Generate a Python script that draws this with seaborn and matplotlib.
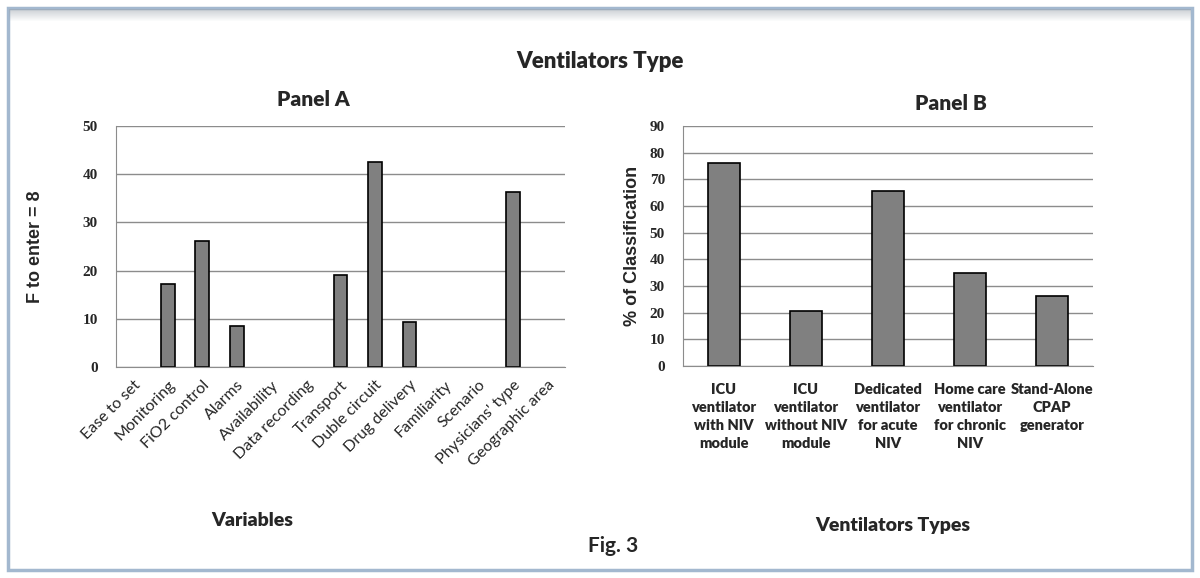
import numpy as np
import pandas as pd
import matplotlib
matplotlib.use("Agg")
import matplotlib.pyplot as plt
import seaborn as sns
from matplotlib.patches import Rectangle

# Panel A data
variables = ["Ease to set", "Monitoring", "FiO2 control", "Alarms", "Availability",
             "Data recording", "Transport", "Duble circuit", "Drug delivery",
             "Familiarity", "Scenario", "Physicians' type", "Geographic area"]
f_to_enter = [0, 17.2, 26.2, 8.6, 0, 0, 19.1, 42.6, 9.35, 0, 0, 36.4, 0]

# Panel B data
vent_types = ["ICU\nventilator\nwith NIV\nmodule", "ICU\nventilator\nwithout NIV\nmodule",
              "Dedicated\nventilator\nfor acute\nNIV", "Home care\nventilator\nfor chronic\nNIV",
              "Stand-Alone\nCPAP\ngenerator"]
pct_class = [76.2, 20.8, 65.8, 34.9, 26.4]

df_a = pd.DataFrame({"variable": variables, "F": f_to_enter})
df_b = pd.DataFrame({"type": vent_types, "pct": pct_class})

sns.set_style("white")
plt.rcParams["font.family"] = ["Lato", "DejaVu Sans"]

W, H = 1200, 578
fig = plt.figure(figsize=(12, 5.78), dpi=100)

def fx(px):
    return px / W

def fy(py):
    return 1 - py / H

# frame around the figure
fig.patches.append(Rectangle((fx(8), fy(570)), fx(1184), 562 / H, transform=fig.transFigure,
                             fill=False, edgecolor="#a3b8cf", linewidth=2.5))
# shaded strip along the top
for i in range(12):
    fig.patches.append(Rectangle((fx(9), fy(10 + i)), fx(1182), 1 / H, transform=fig.transFigure,
                                 facecolor="#9aa3ad", edgecolor="none", alpha=0.5 * (1 - i / 12)))

bar_kw = dict(color="#808080", edgecolor="black", linewidth=1.2, width=0.4, saturation=1)


def style_axis(ax, ylabel, pad):
    ax.yaxis.grid(True, color="#8c8c8c", linewidth=1)
    ax.set_axisbelow(True)
    ax.set_xlabel("")
    ax.set_ylabel(ylabel, fontsize=13, fontweight="bold",
                  family=["Liberation Sans", "DejaVu Sans"], labelpad=pad)
    ax.tick_params(axis="y", length=0, pad=13)
    for lab in ax.get_yticklabels():
        lab.set_fontweight("bold")
        lab.set_fontsize(11)
        lab.set_family(["Liberation Serif", "DejaVu Serif"])
    for s in ["top", "right"]:
        ax.spines[s].set_visible(False)
    for s in ["left", "bottom"]:
        ax.spines[s].set_color("#8c8c8c")
    # empty categories draw nothing
    for p in ax.patches:
        if p.get_height() == 0:
            p.set_visible(False)


# ---- Panel A
ax1 = fig.add_axes([fx(116), fy(367), fx(449), 241 / H])
sns.barplot(data=df_a, x="variable", y="F", ax=ax1, **bar_kw)
ax1.set_ylim(0, 50)
ax1.set_yticks(range(0, 51, 10))
ax1.set_xticks(range(len(variables)))
ax1.set_xticklabels(variables, rotation=45, ha="right", rotation_mode="anchor", fontsize=11.5)
ax1.tick_params(axis="x", length=0, pad=8)
style_axis(ax1, "F to enter = 8", 28)
ax1.set_xlim(-0.5, len(variables) - 0.5)

# ---- Panel B
ax2 = fig.add_axes([fx(683), fy(366), fx(410), 240 / H])
sns.barplot(data=df_b, x="type", y="pct", ax=ax2, **bar_kw)
ax2.set_ylim(0, 90)
ax2.set_yticks(range(0, 91, 10))
ax2.set_xticks(range(len(vent_types)))
ax2.set_xticklabels(vent_types, fontsize=10.5, fontweight="heavy", linespacing=1.45)
ax2.tick_params(axis="x", length=0, pad=12)
style_axis(ax2, "% of Classification", 6)
ax2.set_xlim(-0.5, len(vent_types) - 0.5)

# ---- figure texts
fig.text(fx(600), fy(62), "Ventilators Type", ha="center", va="center", fontsize=16, fontweight="heavy")
fig.text(fx(313), fy(100), "Panel A", ha="center", va="center", fontsize=15, fontweight="heavy")
fig.text(fx(951), fy(103), "Panel B", ha="center", va="center", fontsize=15, fontweight="heavy")
fig.text(fx(252), fy(521), "Variables", ha="center", va="center", fontsize=14, fontweight="heavy")
fig.text(fx(893), fy(526), "Ventilators Types", ha="center", va="center", fontsize=14, fontweight="heavy")
fig.text(fx(613), fy(546), "Fig. 3", ha="center", va="center", fontsize=15, fontweight="bold")

fig.savefig("out.png", dpi=100)
